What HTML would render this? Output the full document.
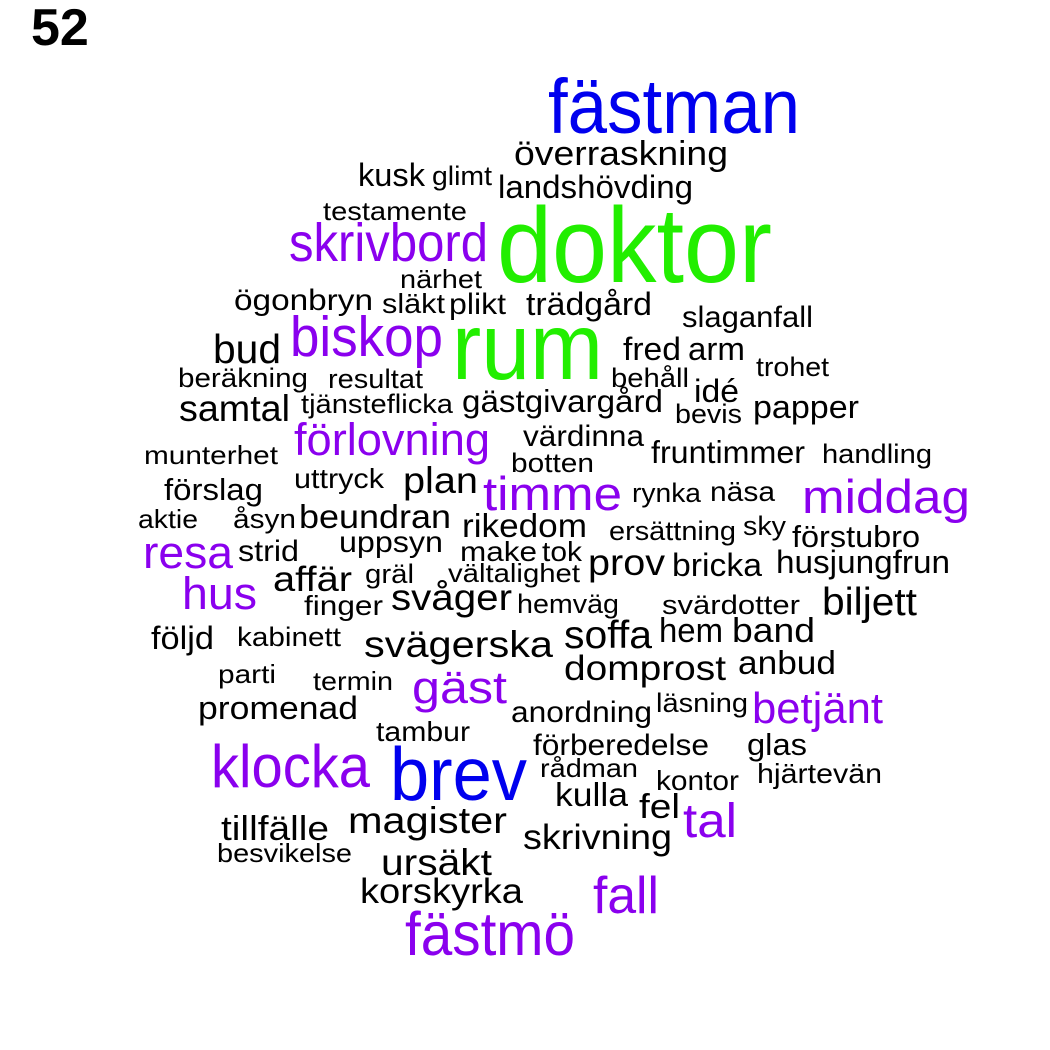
<!DOCTYPE html>
<html><head><meta charset="utf-8"><style>
html,body{margin:0;padding:0;background:#fff;}
svg{display:block;font-family:"Liberation Sans",Arial,sans-serif;}
</style></head><body>
<svg id="cloud" width="1050" height="1050" viewBox="0 0 1050 1050">
<rect width="1050" height="1050" fill="#fff"/>
<text x="31" y="45" font-size="52" font-weight="bold" fill="#000">52</text>
</svg>
<script>
const G="#22ee00",B="#0000ee",P="#8a00ee",K="#000";
const words=[
["fästman",548,133,252,71,B],["överraskning",514,165,214,32,K],["landshövding",498,198,195,30,K],
["doktor",497,282,275,99,G],["kusk",358,186,67,30,K],["glimt",432,185,60,25,K],["testamente",323,220,144,24,K],
["skrivbord",289,261,199,50,P],["närhet",400,288,82,24,K],["ögonbryn",234,310,139,27,K],["släkt",382,313,63,26,K],
["plikt",449,314,57,27,K],["trädgård",526,315,126,30,K],["biskop",290,356,153,52,P],["bud",213,363,68,38,K],
["rum",452,379,151,88,G],["beräkning",178,387,130,25,K],["resultat",328,388,95,25,K],["samtal",179,421,111,34,K],
["tjänsteflicka",301,413,152,25,K],["gästgivargård",462,412,201,29,K],["förlovning",294,455,196,42,P],
["munterhet",144,464,134,24,K],["uttryck",294,488,90,26,K],["plan",403,493,75,34,K],["förslag",164,500,99,28,K],
["aktie",138,528,60,24,K],["åsyn",233,528,63,25,K],["beundran",299,528,152,31,K],["timme",483,510,139,44,P],
["rikedom",462,537,125,31,K],["värdinna",523,446,121,27,K],["botten",511,472,83,25,K],["slaganfall",682,327,131,27,K],
["fred",623,360,58,30,K],["arm",688,360,57,30,K],["trohet",756,376,73,25,K],["behåll",611,387,78,25,K],
["idé",694,402,45,30,K],["bevis",675,423,67,25,K],["papper",753,418,106,30,K],["fruntimmer",651,463,154,29,K],
["handling",822,463,110,25,K],["rynka",632,502,69,25,K],["näsa",710,501,65,26,K],["middag",802,513,168,44,P],
["ersättning",609,540,127,25,K],["sky",743,535,43,25,K],["förstubro",792,547,128,28,K],["make",460,561,77,26,K],
["tok",542,561,40,26,K],["vältalighet",448,582,132,24,K],["prov",588,575,77,34,K],["bricka",672,576,90,30,K],
["husjungfrun",776,573,174,30,K],["hemväg",517,613,102,25,K],["svärdotter",662,614,138,25,K],["biljett",822,615,95,36,K],
["svåger",391,610,121,34,K],["soffa",564,648,88,36,K],["hem",659,642,64,32,K],["band",732,642,83,32,K],
["resa",143,568,90,42,P],["strid",238,561,61,27,K],["uppsyn",339,552,104,27,K],["affär",273,591,79,33,K],
["gräl",365,583,49,25,K],["hus",182,609,75,42,P],["finger",304,615,79,26,K],["följd",151,649,63,30,K],
["kabinett",237,646,104,25,K],["svägerska",364,657,189,34,K],["parti",218,683,58,24,K],["termin",313,690,80,24,K],
["gäst",412,703,95,42,P],["promenad",198,719,160,30,K],["tambur",376,741,94,26,K],["klocka",211,787,159,56,P],
["brev",390,800,137,70,B],["tillfälle",221,840,108,32,K],["magister",348,833,159,34,K],["besvikelse",217,862,135,24,K],
["ursäkt",381,875,111,34,K],["korskyrka",360,903,163,33,K],["fästmö",405,955,170,57,P],
["domprost",564,680,162,33,K],["anbud",738,674,98,31,K],["anordning",511,722,141,27,K],["läsning",656,712,92,25,K],
["betjänt",752,723,131,40,P],["förberedelse",533,755,176,27,K],["glas",747,755,60,28,K],["rådman",540,777,98,24,K],
["kontor",656,790,83,26,K],["hjärtevän",757,783,125,26,K],["kulla",555,806,73,31,K],["fel",639,818,41,32,K],
["tal",683,837,54,45,P],["skrivning",523,849,149,33,K],["fall",593,913,66,48,P]
];
const svg=document.getElementById('cloud');
const NS="http://www.w3.org/2000/svg";
words.forEach(w=>{
  const t=document.createElementNS(NS,'text');
  t.setAttribute('x',w[1]);t.setAttribute('y',w[2]);
  t.setAttribute('font-size',(w[4]*1.08).toFixed(1));t.setAttribute('fill',w[5]);
  t.setAttribute('textLength',w[3]);t.setAttribute('lengthAdjust','spacingAndGlyphs');
  t.textContent=w[0];
  
  
  svg.appendChild(t);
});
</script>
</body></html>
